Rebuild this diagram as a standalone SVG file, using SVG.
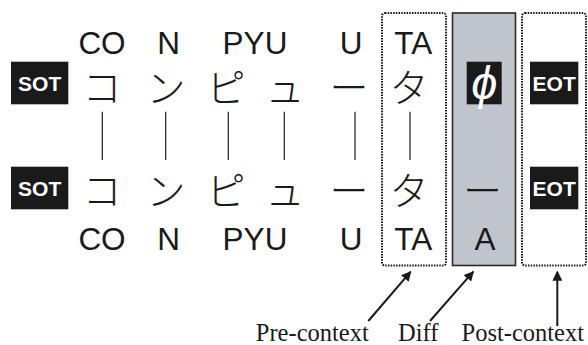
<svg xmlns="http://www.w3.org/2000/svg" width="588" height="345" viewBox="0 0 588 345">
<defs>
<style>
.lat{font-family:"Liberation Sans",Arial,sans-serif;font-size:31.5px;fill:#1a1a1a;text-anchor:middle}
.kana{font-family:"Noto Sans CJK JP","Noto Sans CJK SC",sans-serif;font-size:39px;font-weight:300;fill:#1a1a1a;text-anchor:middle}
.tag{font-family:"Liberation Sans",Arial,sans-serif;font-size:21px;font-weight:bold;fill:#fff;text-anchor:middle}
.lbl{font-family:"Liberation Serif","Times New Roman",serif;font-size:24.5px;fill:#1a1a1a;text-anchor:middle}
.blk{fill:#1a1a1a}
.dot{fill:none;stroke:#1a1a1a;stroke-width:2;stroke-dasharray:1.5 1.2}
.link{stroke:#1a1a1a;stroke-width:1.2}
.arr{stroke:#1a1a1a;stroke-width:2;fill:none;marker-end:url(#ah)}
</style>
<marker id="ah" viewBox="0 0 10 10" refX="9" refY="5" markerWidth="5" markerHeight="5" orient="auto" markerUnits="strokeWidth">
<path d="M0,0 L10,5 L0,10 z" fill="#1a1a1a"/>
</marker>
</defs>
<rect width="588" height="345" fill="#fff"/>

<g id="pre-context">
<rect class="dot" x="382" y="13" width="64" height="252.5" rx="3"/>
</g>
<g id="diff">
<rect x="452.5" y="13" width="63" height="252.5" fill="#c0c4cc" stroke="#2a2a2a" stroke-width="1.6"/>
</g>
<g id="post-context">
<rect class="dot" x="522" y="13" width="64" height="252.5" rx="3"/>
</g>

<g id="sot-top"><rect class="blk" x="11" y="61.7" width="57.3" height="42.6"/><text class="tag" x="39.7" y="90.5">SOT</text></g>
<g id="sot-bottom"><rect class="blk" x="11" y="166.7" width="57.3" height="42.6"/><text class="tag" x="39.7" y="195.5">SOT</text></g>
<g id="eot-top"><rect class="blk" x="530" y="61.7" width="48.3" height="42.6"/><text class="tag" x="554.2" y="90.5">EOT</text></g>
<g id="eot-bottom"><rect class="blk" x="530" y="166.7" width="48.3" height="42.6"/><text class="tag" x="554.2" y="195.5">EOT</text></g>
<g id="phi"><rect class="blk" x="466.7" y="61.7" width="35" height="42.6"/><text x="484.2" y="99" font-family="Liberation Sans,Arial,sans-serif" font-style="italic" font-size="47" fill="#fff" text-anchor="middle">ϕ</text></g>

<g id="top-romaji">
<text class="lat" x="102" y="54">CO</text>
<text class="lat" x="168.5" y="54">N</text>
<text class="lat" x="255" y="54">PYU</text>
<text class="lat" x="351" y="54">U</text>
<text class="lat" x="413.3" y="54">TA</text>
</g>
<g id="top-kana">
<text class="kana" x="102" y="101.5">コ</text>
<text class="kana" x="166" y="101.5">ン</text>
<text class="kana" x="226" y="101.5">ピ</text>
<text class="kana" x="285" y="101.5">ュ</text>
<text class="kana" x="349" y="101.5">ー</text>
<text class="kana" x="409" y="101.5">タ</text>
</g>
<g id="bottom-kana">
<text class="kana" x="102" y="205">コ</text>
<text class="kana" x="166" y="205">ン</text>
<text class="kana" x="226" y="205">ピ</text>
<text class="kana" x="285" y="205">ュ</text>
<text class="kana" x="349" y="205">ー</text>
<text class="kana" x="409" y="205">タ</text>
<text class="kana" x="482.5" y="205">ー</text>
</g>
<g id="bottom-romaji">
<text class="lat" x="102" y="249.5">CO</text>
<text class="lat" x="168.5" y="249.5">N</text>
<text class="lat" x="255" y="249.5">PYU</text>
<text class="lat" x="351" y="249.5">U</text>
<text class="lat" x="413.3" y="249.5">TA</text>
<text class="lat" x="485" y="249.5">A</text>
</g>

<g id="connectors">
<line class="link" x1="102.3" y1="111.7" x2="102.3" y2="160"/>
<line class="link" x1="165.7" y1="111.7" x2="165.7" y2="160"/>
<line class="link" x1="228.3" y1="111.7" x2="228.3" y2="160"/>
<line class="link" x1="284.3" y1="111.7" x2="284.3" y2="160"/>
<line class="link" x1="355" y1="111.7" x2="355" y2="160"/>
<line class="link" x1="410" y1="111.7" x2="410" y2="160"/>
<line class="arr" x1="368.3" y1="321" x2="410.7" y2="271.7"/>
<line class="arr" x1="430" y1="321" x2="473.3" y2="271.7"/>
<line class="arr" x1="557.3" y1="326" x2="557.3" y2="271.7"/>
</g>

<g id="labels">
<text class="lbl" x="312.3" y="340.5">Pre-context</text>
<text class="lbl" x="418.3" y="340.5">Diff</text>
<text class="lbl" x="522.8" y="340.5">Post-context</text>
</g>
</svg>
